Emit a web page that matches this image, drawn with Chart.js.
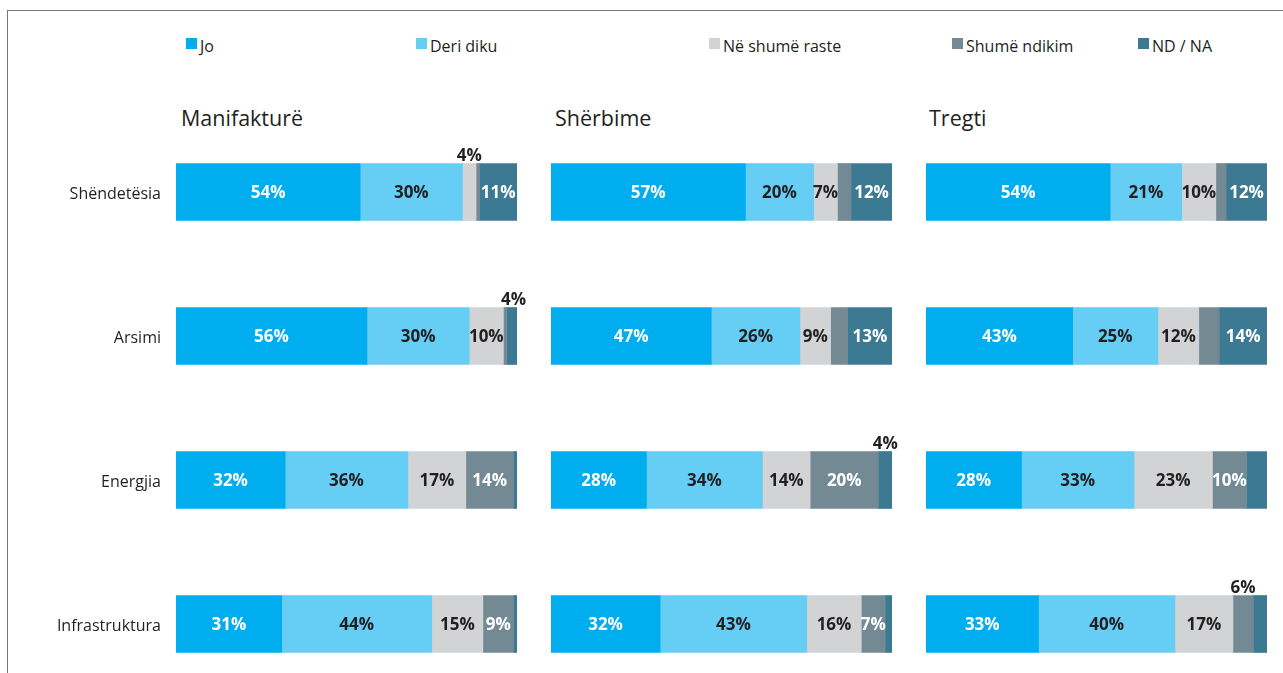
<!DOCTYPE html>
<html>
<head>
<meta charset="utf-8">
<script src="https://cdn.jsdelivr.net/npm/chart.js@4/dist/chart.umd.min.js"></script>
<style>
  html, body { margin: 0; padding: 0; background: #fff; overflow: hidden; }
  body { width: 1283px; height: 673px; position: relative; font-family: "Open Sans", sans-serif; color: #231f20; }
  #frame { position: absolute; left: 7px; top: 10px; width: 1290px; height: 700px; border-top: 1px solid #777; border-left: 1px solid #777; }
  .legend-item { position: absolute; top: 35px; font-size: 16px; line-height: 22px; white-space: nowrap; }
  .legend-item i { position: absolute; left: 0; top: 3px; width: 11px; height: 11px; }
  .legend-item span { position: absolute; left: 14px; top: 0; }
  .panel-title { position: absolute; top: 104px; font-size: 21.5px; line-height: 28px; }
  canvas { position: absolute; top: 120px; }
</style>
</head>
<body>
<div id="frame"></div>
<div id="legend"></div>
<div id="titles"></div>
<canvas id="chart0" width="537" height="576" style="left:0px"></canvas>
<canvas id="chart1" width="361" height="576" style="left:551px"></canvas>
<canvas id="chart2" width="357" height="576" style="left:926px"></canvas>
<script>
const categories = ['Shëndetësia', 'Arsimi', 'Energjia', 'Infrastruktura'];
const seriesNames = ['Jo', 'Deri diku', 'Në shumë raste', 'Shumë ndikim', 'ND / NA'];
const seriesColors = ['#00adef', '#66cdf4', '#d1d3d4', '#738a94', '#3c7a94'];
const labelColors = ['#ffffff', '#231f20', '#231f20', '#ffffff', '#ffffff'];
const panelTitles = ['Manifakturë', 'Shërbime', 'Tregti'];

// one row per category, columns follow seriesNames (in %)
const manifaktureValues = [
    [54, 30, 4, 1, 11],
    [56, 30, 10, 1, 4],
    [32, 36, 17, 14, 1],
    [31, 44, 15, 9, 1]
];
const sherbimeValues = [
    [57, 20, 7, 4, 12],
    [47, 26, 9, 5, 13],
    [28, 34, 14, 20, 4],
    [32, 43, 16, 7, 2]
];
const tregtiValues = [
    [54, 21, 10, 3, 12],
    [43, 25, 12, 6, 14],
    [28, 33, 23, 10, 6],
    [33, 40, 17, 6, 4]
];

// where the value label goes: 1 inside the segment, 2 above the bar, 0 not shown
const manifaktureLabelPos = [
    [1, 1, 2, 0, 1],
    [1, 1, 1, 0, 2],
    [1, 1, 1, 1, 0],
    [1, 1, 1, 1, 0]
];
const sherbimeLabelPos = [
    [1, 1, 1, 0, 1],
    [1, 1, 1, 0, 1],
    [1, 1, 1, 1, 2],
    [1, 1, 1, 1, 0]
];
const tregtiLabelPos = [
    [1, 1, 1, 0, 1],
    [1, 1, 1, 0, 1],
    [1, 1, 1, 1, 0],
    [1, 1, 1, 2, 0]
];

const panelValues = [manifaktureValues, sherbimeValues, tregtiValues];
const panelLabelPos = [manifaktureLabelPos, sherbimeLabelPos, tregtiLabelPos];

// legend squares sit at uneven spots across the top
const legendLeft = [186, 416, 709, 952, 1138];
const titleLeft = [181, 555, 929];
const panelRightPad = [20, 20, 16];

const legendBox = document.getElementById('legend');
seriesNames.forEach((name, i) => {
    const item = document.createElement('div');
    item.className = 'legend-item';
    item.style.left = legendLeft[i] + 'px';
    item.innerHTML = '<i style="background:' + seriesColors[i] + '"></i><span>' + name + '</span>';
    legendBox.appendChild(item);
});

const titleBox = document.getElementById('titles');
panelTitles.forEach((t, i) => {
    const el = document.createElement('div');
    el.className = 'panel-title';
    el.style.left = titleLeft[i] + 'px';
    el.textContent = t;
    titleBox.appendChild(el);
});

const valueLabels = {
    id: 'valueLabels',
    afterDatasetsDraw(chart, args, opts) {
        const ctx = chart.ctx;
        const pos = opts.positions;
        ctx.save();
        ctx.font = 'bold 17px "Open Sans", sans-serif';
        ctx.textAlign = 'center';
        chart.data.datasets.forEach((ds, s) => {
            const meta = chart.getDatasetMeta(s);
            meta.data.forEach((bar, c) => {
                const where = pos[c][s];
                if (!where) return;
                const text = ds.data[c] + '%';
                const cx = (bar.x + bar.base) / 2;
                if (where === 1) {
                    ctx.fillStyle = labelColors[s];
                    ctx.textBaseline = 'middle';
                    ctx.fillText(text, cx, bar.y + 1);
                } else {
                    ctx.fillStyle = '#231f20';
                    ctx.textBaseline = 'bottom';
                    ctx.fillText(text, cx, bar.y - bar.height / 2 + 1);
                }
            });
        });
        ctx.restore();
    }
};

for (let p = 0; p < 3; p++) {
    const values = panelValues[p];
    const datasets = seriesNames.map((name, s) => ({
        label: name,
        data: values.map(row => row[s]),
        backgroundColor: seriesColors[s],
        borderWidth: 0,
        barThickness: 57
    }));
    const withCats = p === 0;
    new Chart(document.getElementById('chart' + p), {
        type: 'bar',
        data: { labels: categories, datasets: datasets },
        plugins: [valueLabels],
        options: {
            indexAxis: 'y',
            responsive: false,
            animation: false,
            layout: { padding: { left: 0, top: 0, bottom: 0, right: panelRightPad[p] } },
            plugins: {
                legend: { display: false },
                tooltip: { enabled: false },
                valueLabels: { positions: panelLabelPos[p] }
            },
            scales: {
                x: { stacked: true, min: 0, max: 100, display: false },
                y: {
                    stacked: true,
                    display: withCats,
                    grid: { display: false, drawTicks: false },
                    border: { display: false },
                    ticks: {
                        padding: 15,
                        labelOffset: 2,
                        color: '#231f20',
                        font: { family: '"Open Sans", sans-serif', size: 16 }
                    },
                    afterFit(scale) {
                        // labels sit beside the bars, no need to pad the ends
                        scale.width = withCats ? 176 : 0;
                        scale.paddingTop = 0;
                        scale.paddingBottom = 0;
                    }
                }
            }
        }
    });
}
</script>
</body>
</html>
